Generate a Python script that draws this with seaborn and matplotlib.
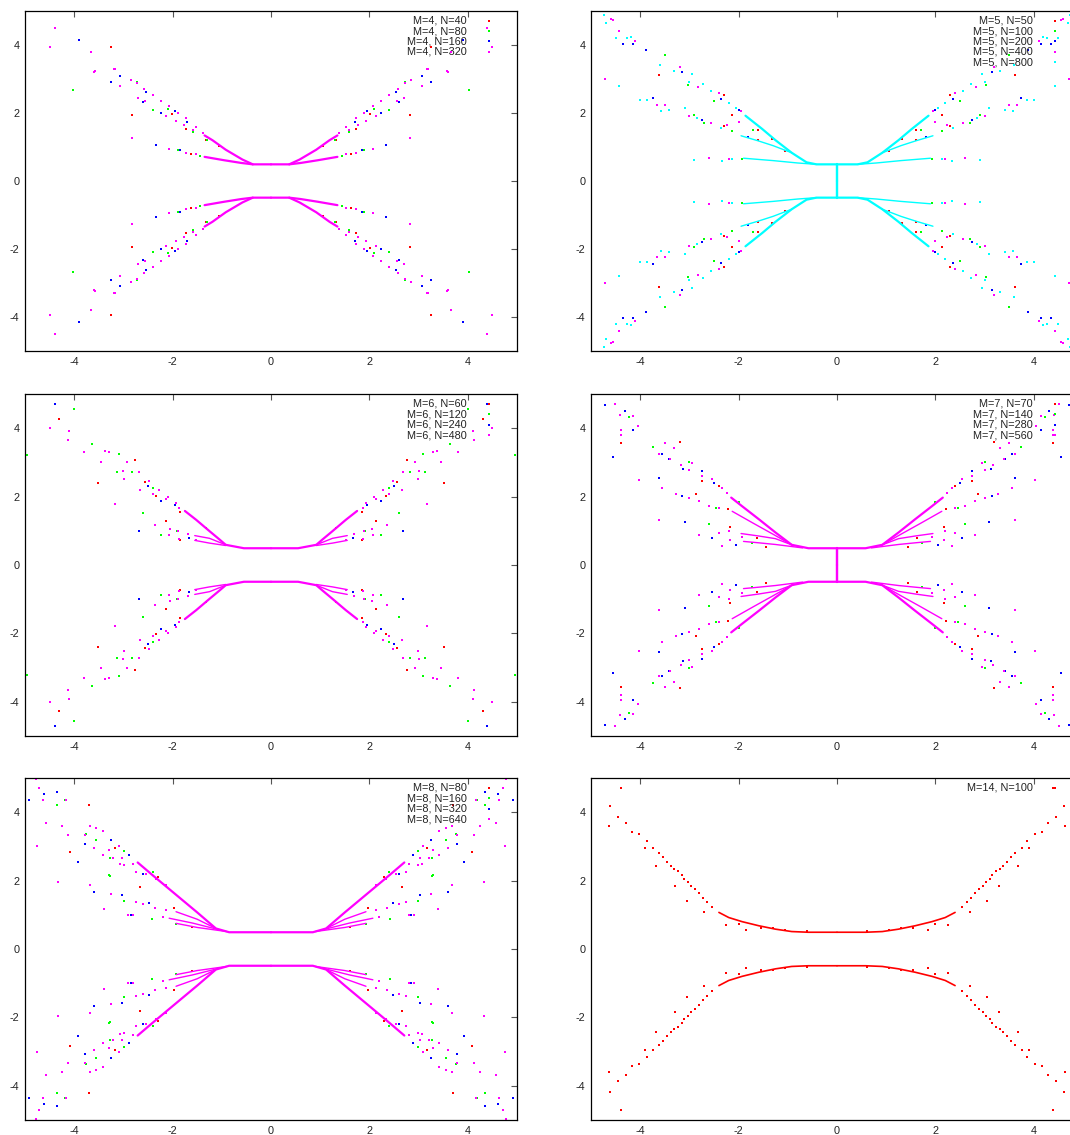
import numpy as np
import matplotlib
matplotlib.use("Agg")
import matplotlib.pyplot as plt
import seaborn as sns

# gnuplot default line colours
red, green, blue, magenta, cyan = "#ff0000", "#00ff00", "#0000ff", "#ff00ff", "#00ffff"

# The spectra are symmetric under x -> -x and y -> -y, so only the
# upper-right quadrant is read off the picture (x, y pairs).

# ---- M=4
m4_labels = ["M=4, N=40", "M=4, N=80", "M=4, N=160", "M=4, N=320"]
m4_n40 = [(1.05, 1.04), (1.33, 1.22), (1.72, 1.53), (2.02, 1.98), (2.83, 1.95), (3.25, 3.93), (1.62, 0.80)]
m4_n80 = [(1.45, 0.73), (1.9, 0.92), (2.1, 2.12), (2.4, 2.1), (2.72, 2.9), (4.02, 2.68), (1.58, 1.45), (1.3, 1.2)]
m4_n160 = [(2.33, 1.07), (2.24, 2.0), (3.06, 3.1), (3.25, 2.9), (3.9, 4.15), (2.55, 2.62), (1.95, 2.05),
           (1.7, 1.75), (2.6, 2.32), (1.85, 0.9)]
m4_n320 = [(1.52, 1.6), (1.73, 1.85), (1.9, 2.0), (2.07, 2.2), (2.24, 2.36), (2.4, 2.52), (2.58, 2.72),
           (2.73, 2.88), (2.85, 2.98), (3.17, 3.29), (3.57, 3.23), (1.39, 1.41), (1.59, 1.51), (1.76, 1.66),
           (1.93, 1.76), (2.13, 1.9), (2.57, 2.34), (2.71, 2.44), (3.06, 2.78), (1.52, 0.78), (1.73, 0.82),
           (2.08, 0.95), (2.83, 1.26), (4.4, 4.5), (4.5, 3.95), (3.65, 3.78), (3.6, 3.22), (3.2, 3.3)]
m4_core_a = [(0, 0.49), (0.37, 0.49), (0.58, 0.63), (0.92, 0.92), (1.19, 1.2), (1.35, 1.34)]
m4_core_b = [(0.37, 0.49), (0.6, 0.53), (0.95, 0.61), (1.35, 0.71)]

# ---- M=5
m5_labels = ["M=5, N=50", "M=5, N=100", "M=5, N=200", "M=5, N=400", "M=5, N=800"]
m5_n50 = [(1.05, 0.87), (1.32, 1.23), (1.61, 1.49), (2.13, 1.93), (2.30, 1.61), (2.3, 2.52), (3.61, 3.11), (1.6, 1.2)]
m5_n100 = [(1.7, 1.5), (2.13, 1.46), (2.9, 1.95), (3.03, 2.81), (1.93, 0.66), (3.5, 3.7), (2.5, 2.35), (2.7, 1.72)]
m5_n200 = [(2.74, 1.8), (3.15, 3.2), (3.73, 2.44), (4.15, 4.04), (3.88, 3.86), (2.0, 2.1), (2.6, 0.68),
           (1.8, 1.3), (4.35, 4.02), (2.35, 2.4)]
m5_n400 = [(3.49, 2.24), (3.0, 1.92), (3.2, 3.34), (4.71, 3.01), (4.55, 4.74), (4.44, 4.4), (2.6, 0.67),
           (2.83, 2.76), (2.4, 2.59), (2.24, 1.65), (2.57, 1.7), (4.11, 4.11), (4.6, 4.76), (3.66, 2.24),
           (2.0, 1.75), (1.95, 2.05), (2.2, 0.64)]
m5_n800 = [(4.74, 4.89), (4.27, 4.2), (4.44, 2.78), (3.86, 2.38), (3.41, 2.1), (2.91, 0.61), (3.32, 3.25),
           (2.95, 3.14), (2.73, 2.86), (2.57, 2.64), (3.08, 2.15), (2.34, 0.6), (2.13, 0.64), (2.2, 2.3),
           (2.05, 2.15), (2.35, 1.55), (4.0, 2.38), (3.57, 2.05), (4.19, 4.23), (4.5, 4.2), (4.7, 4.66),
           (3.6, 3.4), (2.85, 1.85), (3.0, 2.9)]
m5_core_v = [(0, 0), (0, 0.5)]
m5_core_a = [(0, 0.49), (0.42, 0.49), (0.62, 0.55), (0.92, 0.83), (1.25, 1.2), (1.52, 1.53), (1.86, 1.92)]
m5_core_b = [(0.92, 0.83), (1.3, 1.04), (1.6, 1.18), (1.95, 1.33)]
m5_core_c = [(0.42, 0.49), (0.8, 0.53), (1.3, 0.6), (1.9, 0.67)]

# ---- M=6
m6_labels = ["M=6, N=60", "M=6, N=120", "M=6, N=240", "M=6, N=480"]
m6_n60 = [(2.76, 3.07), (2.57, 2.44), (2.34, 2.01), (2.13, 1.29), (1.84, 1.56), (3.51, 2.41), (4.3, 4.28),
          (1.32, 1.09), (1.84, 0.73)]
m6_n120 = [(3.64, 3.53), (4.95, 3.21), (3.12, 2.73), (2.61, 1.53), (2.23, 0.87), (3.08, 3.24), (2.82, 2.71),
           (2.4, 2.26), (1.92, 1.0), (4.0, 4.55)]
m6_n240 = [(2.68, 1.0), (2.24, 1.87), (1.66, 0.8), (4.4, 4.72), (2.5, 2.3), (1.95, 1.75)]
m6_n480 = [(1.93, 1.82), (2.1, 2.0), (2.27, 2.18), (2.47, 2.47), (2.68, 2.73), (2.93, 3.01), (3.29, 3.3),
           (3.37, 3.33), (1.86, 1.68), (2.13, 1.92), (2.4, 2.09), (2.66, 2.19), (3.46, 3.0), (2.99, 2.52),
           (1.69, 0.92), (1.9, 1.0), (2.05, 1.05), (2.35, 1.17), (1.86, 0.75), (2.08, 0.87), (1.52, 0.73),
           (4.1, 3.92), (4.13, 3.66), (3.17, 1.79), (3.0, 2.75), (4.5, 4.0), (3.8, 3.3)]
m6_core_a = [(0, 0.49), (0.55, 0.49), (0.92, 0.59), (1.05, 0.75), (1.25, 0.99), (1.52, 1.32), (1.75, 1.58)]
m6_core_b = [(0.92, 0.59), (1.25, 0.78), (1.55, 0.86)]
m6_core_c = [(0.92, 0.57), (1.25, 0.64), (1.55, 0.72)]

# ---- M=7
m7_labels = ["M=7, N=70", "M=7, N=140", "M=7, N=280", "M=7, N=560"]
m7_n70 = [(3.2, 3.6), (2.74, 2.47), (2.87, 2.08), (2.17, 1.1), (2.22, 1.63), (1.44, 0.52), (1.63, 0.79),
          (4.4, 3.56), (2.4, 2.3)]
m7_n140 = [(3.73, 3.45), (3.0, 3.0), (2.61, 1.21), (1.73, 0.65), (4.23, 4.33), (2.45, 1.68), (2.0, 1.85)]
m7_n280 = [(3.56, 3.24), (3.12, 2.82), (3.15, 2.02), (3.62, 2.55), (4.56, 3.16), (4.15, 3.95), (4.3, 4.5),
           (4.71, 4.67), (3.08, 1.27), (2.54, 0.8), (2.05, 0.58), (2.74, 2.75), (2.5, 2.41), (3.42, 3.09)]
m7_n560 = [(2.34, 2.26), (2.54, 2.51), (2.95, 2.98), (3.32, 3.43), (3.49, 3.58), (2.24, 2.11), (2.74, 2.6),
           (3.0, 2.79), (3.61, 3.24), (3.39, 3.09), (3.18, 2.92), (3.0, 1.95), (3.27, 2.08), (3.56, 2.24),
           (4.03, 2.5), (4.4, 3.79), (4.4, 3.96), (4.05, 4.06), (4.15, 4.36), (4.51, 4.7), (4.42, 4.4),
           (3.62, 1.32), (2.4, 0.95), (2.81, 0.87), (2.34, 0.55), (1.93, 0.81), (2.17, 0.74), (2.4, 1.66),
           (2.61, 1.72), (2.81, 1.87), (2.2, 1.0)]
m7_core_v = [(0, 0), (0, 0.5)]
m7_core_a = [(0, 0.49), (0.58, 0.49), (0.92, 0.59), (1.25, 0.95), (1.59, 1.34), (1.93, 1.72), (2.15, 1.97)]
m7_core_b = [(0.92, 0.59), (1.3, 0.9), (1.7, 1.22), (2.13, 1.57)]
m7_core_c = [(0.92, 0.59), (1.25, 0.77), (1.6, 0.85), (1.95, 0.92)]
m7_core_d = [(0.7, 0.5), (1.25, 0.6), (1.6, 0.65), (1.9, 0.69)]

# ---- M=8
m8_labels = ["M=8, N=80", "M=8, N=160", "M=8, N=320", "M=8, N=640"]
m8_n80 = [(2.66, 1.8), (4.08, 2.84), (3.18, 2.94), (1.97, 1.19), (1.61, 0.63), (2.3, 2.1), (3.7, 4.2)]
m8_n160 = [(4.18, 4.35), (4.34, 4.2), (3.76, 3.35), (3.56, 3.19), (3.27, 2.65), (2.98, 2.86), (3.27, 2.14),
           (2.98, 1.4), (2.42, 0.88), (1.93, 0.72), (2.4, 2.25), (3.3, 2.15)]
m8_n320 = [(2.88, 2.75), (3.25, 3.19), (4.34, 4.6), (4.61, 4.52), (4.91, 4.35), (3.93, 2.53), (3.79, 3.06),
           (3.59, 1.67), (3.03, 1.59), (2.47, 1.35), (2.6, 2.2), (2.85, 1.0)]
m8_n640 = [(3.08, 3.0), (3.42, 3.44), (3.56, 3.55), (3.67, 3.6), (4.17, 4.35), (4.78, 4.97), (4.71, 4.72),
           (4.64, 4.35), (4.25, 3.6), (4.57, 3.69), (4.13, 3.33), (3.79, 3.33), (3.59, 2.94), (3.29, 2.89),
           (3.02, 2.65), (2.81, 2.5), (3.06, 2.48), (2.13, 1.87), (2.34, 2.06), (2.54, 2.18), (2.74, 2.26),
           (2.98, 2.46), (3.22, 2.65), (3.42, 2.75), (3.67, 1.87), (4.32, 1.95), (3.4, 1.16), (3.25, 1.6),
           (2.74, 1.38), (2.61, 1.33), (2.81, 1.0), (2.9, 0.98), (2.13, 1.13), (2.2, 0.95), (2.35, 1.2),
           (4.75, 3.0)]
m8_core_a = [(0, 0.49), (0.85, 0.49), (1.12, 0.6), (1.5, 1.07), (2.0, 1.67), (2.4, 2.15), (2.71, 2.53)]
m8_core_b = [(1.12, 0.6), (1.5, 0.87), (1.93, 1.09)]
m8_core_c = [(1.1, 0.58), (1.6, 0.76), (2.07, 0.9)]
m8_core_d = [(0.9, 0.51), (1.5, 0.63), (1.93, 0.75)]

# ---- M=14
m14_labels = ["M=14, N=100"]
m14_n100 = [(2.54, 1.24), (2.64, 1.38), (2.73, 1.5), (2.81, 1.63), (2.88, 1.74), (2.96, 1.85), (3.03, 1.95),
            (3.1, 2.05), (3.16, 2.16), (3.23, 2.28), (3.31, 2.33), (3.37, 2.44), (3.45, 2.55), (3.54, 2.68),
            (3.62, 2.82), (3.75, 2.96), (3.87, 3.16), (4.03, 3.35), (4.17, 3.43), (4.29, 3.69), (4.45, 3.85),
            (4.62, 4.18), (4.4, 4.7), (4.63, 3.61), (3.9, 2.96), (3.67, 2.44), (3.29, 1.85), (3.05, 1.4),
            (2.7, 1.09), (2.26, 0.7), (1.84, 0.57), (1.3, 0.62), (1.05, 0.55), (0.6, 0.53), (1.55, 0.6),
            (2.0, 0.72)]
m14_core = [(0, 0.49), (0.58, 0.49), (0.92, 0.51), (1.25, 0.58), (1.59, 0.68), (1.93, 0.8), (2.2, 0.92),
            (2.4, 1.07)]

signs = [(1, 1), (-1, 1), (1, -1), (-1, -1)]


def dots(ax, pts, color):
    a = np.array(pts, float)
    xs = np.concatenate([a[:, 0] * sx for sx, sy in signs])
    ys = np.concatenate([a[:, 1] * sy for sx, sy in signs])
    sns.scatterplot(x=xs, y=ys, ax=ax, color=color, marker="s", s=3, linewidth=0, legend=False)


def core(ax, pts, color, lw):
    a = np.array(pts, float)
    for sx, sy in signs:
        sns.lineplot(x=a[:, 0] * sx, y=a[:, 1] * sy, ax=ax, color=color, lw=lw,
                     sort=False, estimator=None, legend=False)


def key(ax, labels, colors):
    for i, (lab, c) in enumerate(zip(labels, colors)):
        yy = 0.971 - i * 0.0303
        ax.text(0.898, yy, lab, transform=ax.transAxes, ha="right", va="center", fontsize=7.8,
                color="#222222")
        ax.plot([0.943], [yy], transform=ax.transAxes, marker="s", ms=1.5, color=c, mew=0, ls="none")


sns.set_style("white")
plt.rcParams["font.family"] = ["Liberation Sans", "DejaVu Sans"]
plt.rcParams["axes.unicode_minus"] = False

fig = plt.figure(figsize=(10.7, 11.35), dpi=100)
W, H = 1070, 1135
lefts = [25, 591]
rows = [(11, 351), (394, 736), (778, 1120)]
axes = []
for top, bot in rows:
    for l in lefts:
        axes.append(fig.add_axes([l / W, (H - bot) / H, 492 / W, (bot - top) / H]))

# (labels, series, colours, main cores, side cores)
panels = [
    (m4_labels, [m4_n40, m4_n80, m4_n160, m4_n320], [red, green, blue, magenta], [m4_core_a, m4_core_b], []),
    (m5_labels, [m5_n50, m5_n100, m5_n200, m5_n400, m5_n800], [red, green, blue, magenta, cyan],
     [m5_core_v, m5_core_a], [m5_core_b, m5_core_c]),
    (m6_labels, [m6_n60, m6_n120, m6_n240, m6_n480], [red, green, blue, magenta], [m6_core_a],
     [m6_core_b, m6_core_c]),
    (m7_labels, [m7_n70, m7_n140, m7_n280, m7_n560], [red, green, blue, magenta], [m7_core_v, m7_core_a],
     [m7_core_b, m7_core_c, m7_core_d]),
    (m8_labels, [m8_n80, m8_n160, m8_n320, m8_n640], [red, green, blue, magenta], [m8_core_a],
     [m8_core_b, m8_core_c, m8_core_d]),
    (m14_labels, [m14_n100], [red], [m14_core], []),
]

for ax, (labels, series, colors, mains, sides) in zip(axes, panels):
    for pts, c in zip(series, colors):
        dots(ax, pts, c)
    for seg in sides:
        core(ax, seg, colors[-1], 1.0)
    for seg in mains:
        core(ax, seg, colors[-1], 1.2 if len(series) == 1 else 1.6)
    key(ax, labels, colors)
    ax.set_xlim(-5, 5)
    ax.set_ylim(-5, 5)
    ax.set_xticks([-4, -2, 0, 2, 4])
    ax.set_yticks([-4, -2, 0, 2, 4])
    ax.set_xlabel("")
    ax.set_ylabel("")
    ax.tick_params(direction="in", length=4, width=0.8, color="#555555", labelsize=7.8,
                   labelcolor="#222222", top=True, right=True, pad=4)
    for sp in ax.spines.values():
        sp.set_color("black")
        sp.set_linewidth(0.9)

fig.savefig("out.png", dpi=100, facecolor="white")
